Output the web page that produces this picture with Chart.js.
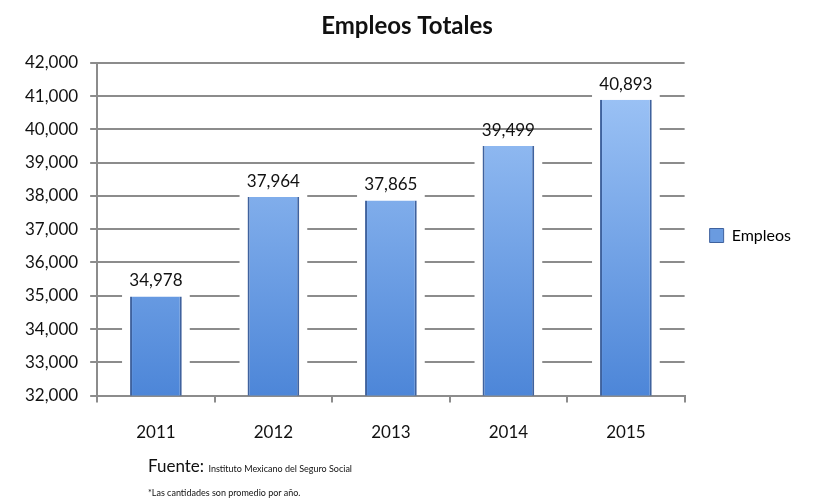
<!DOCTYPE html>
<html>
<head>
<meta charset="utf-8">
<script src="https://cdn.jsdelivr.net/npm/chart.js@4/dist/chart.umd.min.js"></script>
<style>
  body { margin: 0; background: #fff; }
  #wrap { position: relative; width: 821px; height: 501px; }
  #box { position: absolute; left: 0; top: 0; width: 821px; height: 463px; }
  .note { position: absolute; left: 148px; font-family: Lato, "Open Sans", sans-serif; color: #111; white-space: nowrap; }
</style>
</head>
<body>
<div id="wrap">
  <div id="box"><canvas id="chart"></canvas></div>
  <div class="note" style="top:455px;"><span style="font-size:17px;">Fuente: </span><span style="font-size:9px;">Instituto Mexicano del Seguro Social</span></div>
  <div class="note" style="top:487px; font-size:9px;">*Las cantidades son promedio por año.</div>
</div>
<script>
const years = ['2011', '2012', '2013', '2014', '2015'];
const empleos = [34978, 37964, 37865, 39499, 40893];
const yTicks = [32000, 33000, 34000, 35000, 36000, 37000, 38000, 39000, 40000, 41000, 42000];

const FONT = 'Lato, "Open Sans", sans-serif';
const fmt = v => v.toLocaleString('en-US');

// vertical gradient for the bars
function barFill(context) {
    const area = context.chart.chartArea;
    if (!area) return '#6a9be0';
    const g = context.chart.ctx.createLinearGradient(0, area.top, 0, area.bottom);
    g.addColorStop(0, '#a3c8f8');
    g.addColorStop(1, '#4d86d8');
    return g;
}

// white halo behind bars, cutting the grid lines
// (bar.base points at value 0, far below the axis, so use the chart area bottom)
const halo = {
    id: 'halo',
    beforeDatasetsDraw(chart) {
        const ctx = chart.ctx;
        const bottom = chart.chartArea.bottom;
        ctx.save();
        ctx.fillStyle = '#fff';
        chart.getDatasetMeta(0).data.forEach(bar => {
            const w = bar.width;
            ctx.fillRect(bar.x - w / 2 - 8, bar.y - 6, w + 16, bottom - bar.y - 2);
        });
        ctx.restore();
    }
};

// value labels on top of bars
const valueLabels = {
    id: 'valueLabels',
    afterDatasetsDraw(chart) {
        const ctx = chart.ctx;
        const meta = chart.getDatasetMeta(0);
        ctx.save();
        ctx.font = '17px ' + FONT;
        ctx.fillStyle = '#111';
        ctx.textAlign = 'center';
        ctx.textBaseline = 'bottom';
        meta.data.forEach((bar, i) => {
            ctx.fillText(fmt(empleos[i]), bar.x, bar.y - 7);
        });
        ctx.restore();
    }
};

new Chart(document.querySelector('#chart'), {
    type: 'bar',
    data: {
        labels: years,
        datasets: [{
            label: 'Empleos',
            data: empleos,
            backgroundColor: barFill,
            borderColor: '#3f629e',
            borderWidth: { left: 2, right: 2, top: 0, bottom: 0 },
            borderSkipped: false,
            categoryPercentage: 1,
            barPercentage: 0.44
        }]
    },
    options: {
        responsive: true,
        maintainAspectRatio: false,
        animation: false,
        layout: { padding: { left: 13, right: 20, top: 8, bottom: 0 } },
        plugins: {
            title: {
                display: true,
                text: 'Empleos Totales',
                color: '#111',
                font: { family: FONT, size: 24, weight: 'bold' },
                padding: { top: 4, bottom: 22 }
            },
            legend: {
                position: 'right',
                labels: {
                    color: '#111',
                    font: { family: FONT, size: 16 },
                    boxWidth: 14,
                    boxHeight: 14,
                    padding: 25,
                    generateLabels(chart) {
                        return [{
                            text: 'Empleos',
                            fillStyle: '#6a9be0',
                            strokeStyle: '#3f629e',
                            lineWidth: 1,
                            datasetIndex: 0
                        }];
                    }
                }
            },
            tooltip: { enabled: false }
        },
        scales: {
            x: {
                grid: { display: true, drawOnChartArea: false, color: '#8c8c8c', lineWidth: 2, tickLength: 7, offset: true },
                border: { color: '#8c8c8c', width: 2 },
                ticks: {
                    autoSkip: false,
                    maxRotation: 0,
                    color: '#111',
                    font: { family: FONT, size: 17 },
                    padding: 20
                }
            },
            y: {
                min: 32000,
                max: 42000,
                afterBuildTicks(axis) {
                    axis.ticks = yTicks.map(v => ({ value: v }));
                },
                grid: { color: '#8c8c8c', lineWidth: 2, tickLength: 7 },
                border: { color: '#8c8c8c', width: 2 },
                ticks: {
                    color: '#111',
                    font: { family: FONT, size: 17 },
                    padding: 12,
                    callback: v => fmt(v)
                }
            }
        }
    },
    plugins: [halo, valueLabels]
});
</script>
</body>
</html>
